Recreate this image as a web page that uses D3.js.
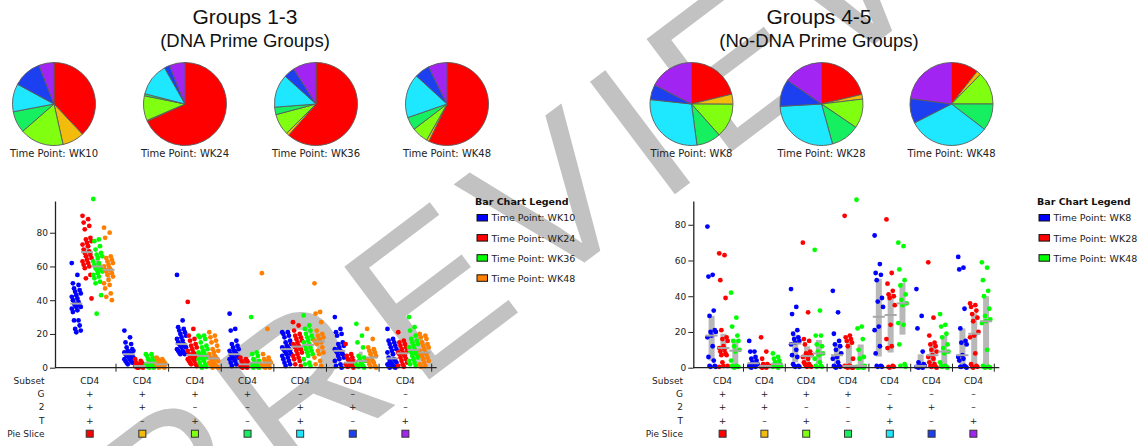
<!DOCTYPE html>
<html>
<head>
<meta charset="utf-8">
<script src="https://cdn.jsdelivr.net/npm/d3@7"></script>
<style>
  html, body { margin: 0; padding: 0; background: #fff; }
  svg { display: block; }
</style>
</head>
<body>
<svg id="chart" width="1145" height="446"></svg>
<script>
// ---------- data ----------
const subsets = ["CD4", "CD4", "CD4", "CD4", "CD4", "CD4", "CD4"];
const rowG = ["+", "+", "+", "+", "–", "–", "–"];
const row2 = ["+", "+", "–", "–", "+", "+", "–"];
const rowT = ["+", "–", "+", "–", "+", "–", "+"];
const sliceColors = ["#ff0000", "#f2bc0c", "#80ff10", "#16f060", "#1ee8ff", "#1c40f0", "#a224f2"];
const yTicks = [0, 20, 40, 60, 80];

const dnaTimePoints = ["WK10", "WK24", "WK36", "WK48"];
const dnaColors = ["#0000ff", "#ff0000", "#00ff00", "#ff8000"];
const noDnaTimePoints = ["WK8", "WK28", "WK48"];
const noDnaColors = ["#0000ff", "#ff0000", "#00ff00"];

// pie slice shares (%), one array per time point
const dnaPieWK10 = [38.0, 8.5, 17.1, 8.4, 10.9, 11.2, 5.9];
const dnaPieWK24 = [68.2, 0.3, 9.7, 0.8, 12.8, 2.1, 6.1];
const dnaPieWK36 = [61.4, 1.1, 8.3, 2.9, 12.9, 4.3, 9.0];
const dnaPieWK48 = [57.2, 1.0, 6.4, 5.1, 17.1, 5.9, 7.3];
const noDnaPieWK8 = [21.2, 3.9, 13.3, 9.5, 28.8, 5.9, 17.4];
const noDnaPieWK28 = [21.3, 1.8, 11.4, 11.2, 28.4, 10.6, 15.3];
const noDnaPieWK48 = [10.6, 1.7, 12.7, 10.4, 32.1, 9.6, 22.9];

// per-animal responses (% of cytokine+ cells), one list per subset
const dnaWK10 = [
  [62, 55, 50, 49, 47, 46, 45, 44, 43, 42, 41, 40, 39, 38, 37, 37, 36, 36, 35, 34, 33, 28, 28, 25, 23, 22, 21],
  [22, 18, 15, 14, 12, 11, 10, 10, 9, 9, 8, 8, 8, 7, 7, 7, 6, 6, 5, 5, 4, 4, 3, 3, 2],
  [55, 28, 24, 23, 22, 21, 20, 19, 18, 17, 16, 15, 14, 14, 13, 13, 12, 12, 11, 10, 10, 9, 9, 8, 8],
  [32, 23, 22, 16, 14, 13, 12, 11, 10, 10, 9, 8, 8, 7, 7, 6, 6, 5, 5, 4, 3, 2, 1],
  [21, 21, 20, 19, 18, 16, 15, 14, 13, 12, 12, 11, 11, 10, 10, 9, 8, 8, 7, 6, 5, 4, 3, 2, 1],
  [30, 23, 21, 20, 19, 15, 14, 13, 12, 11, 10, 10, 9, 9, 8, 7, 6, 5, 4, 2, 1, 0],
  [23, 17, 16, 15, 14, 13, 12, 11, 10, 9, 8, 6, 5, 4, 4, 3, 3, 2, 2, 1, 1, 0.5, 0, 0]
];
const dnaWK24 = [
  [90, 88, 86, 84, 82, 77, 76, 75, 74, 73, 72, 70, 69, 68, 67, 66, 65, 64, 63, 62, 61, 60, 59, 55, 53, 41],
  [5, 4, 3, 3, 2, 2, 2, 1, 1, 1, 1, 0.5, 0.5, 0, 0, 0],
  [39, 23, 19, 17, 16, 14, 13, 12, 11, 10, 9, 8, 8, 7, 7, 7, 6, 6, 5, 5, 4, 4, 3, 2, 2, 1],
  [6, 5, 4, 4, 3, 3, 2, 2, 1, 1, 1, 0.5, 0, 0],
  [27, 25, 22, 20, 19, 18, 17, 16, 15, 14, 13, 13, 12, 12, 11, 10, 9, 8, 7, 6, 5, 4, 2, 1],
  [14, 8, 7, 6, 5, 4, 4, 3, 3, 2, 2, 1, 1, 0.5, 0],
  [21, 16, 15, 14, 13, 12, 11, 10, 9, 9, 8, 8, 7, 6, 5, 4, 3, 2, 1, 0.5]
];
const dnaWK36 = [
  [100, 76, 75, 72, 70, 68, 67, 66, 65, 63, 62, 61, 60, 59, 58, 58, 57, 56, 55, 54, 53, 51, 50, 43, 32],
  [8, 8, 7, 6, 5, 4, 4, 3, 3, 2, 2, 1, 1, 0.5, 0, 0],
  [19, 19, 18, 17, 15, 13, 12, 11, 10, 9, 9, 8, 7, 7, 7, 6, 6, 5, 5, 4, 3, 2, 1, 0.5, 0],
  [30, 9, 8, 7, 5, 4, 3, 3, 2, 2, 1, 1, 0.5, 0, 0],
  [31, 25, 23, 22, 20, 19, 18, 17, 16, 15, 14, 13, 12, 11, 10, 9, 8, 7, 5, 3, 2, 1],
  [26, 19, 15, 12, 7, 6, 5, 4, 3, 2, 2, 1, 1, 0.5, 0],
  [30, 24, 22, 19, 17, 16, 15, 14, 13, 12, 11, 10, 9, 9, 8, 7, 6, 5, 4, 3, 2, 1]
];
const dnaWK48 = [
  [83, 80, 77, 66, 65, 64, 63, 62, 61, 60, 59, 58, 58, 57, 56, 55, 54, 52, 50, 49, 47, 44, 42, 40],
  [6, 5, 5, 4, 4, 3, 3, 2, 2, 2, 1, 1, 0.5, 0, 0],
  [21, 19, 18, 16, 15, 13, 11, 10, 9, 8, 7, 6, 6, 5, 5, 4, 4, 3, 3, 2, 2, 1, 1, 0.5, 0, 0],
  [56, 23, 8, 6, 5, 4, 4, 3, 3, 2, 2, 1, 1, 0.5, 0, 0],
  [50, 33, 32, 27, 22, 20, 19, 18, 17, 16, 16, 15, 15, 14, 12, 10, 9, 8, 6, 4, 2, 1],
  [23, 17, 12, 11, 10, 9, 8, 7, 6, 5, 4, 4, 3, 2, 1, 0.5, 0],
  [20, 19, 18, 17, 15, 14, 13, 12, 11, 10, 9, 8, 8, 7, 6, 5, 4, 3, 2, 1, 0.5]
];
const noDnaWK8 = [
  [79, 52, 51, 32, 29, 21, 20, 20, 18, 17, 12, 6, 4, 1, 1, 0.5, 0.5],
  [15, 9, 9, 6, 5, 4, 3, 2, 2, 1, 1, 0.5, 0.5, 0],
  [44, 34, 30, 21, 19, 17, 16, 15, 14, 13, 10, 7, 6, 2, 1, 1, 0.5, 0.5],
  [43, 31, 19, 15, 13, 12, 10, 8, 6, 5, 3, 1, 1, 0.5, 0.5, 0],
  [74, 58, 53, 52, 49, 39, 37, 34, 23, 21, 12, 8, 1, 1, 0.5, 0.5],
  [44, 29, 22, 9, 3, 2, 1, 1, 1, 0.5, 0.5, 0.5, 0, 0],
  [62, 56, 55, 33, 22, 15, 14, 13, 7, 6, 5, 4, 1, 0.5, 0.5, 0.5, 0]
];
const noDnaWK28 = [
  [64, 63, 49, 39, 21, 17, 16, 15, 12, 11, 10, 9, 8, 7, 7, 3, 1, 1, 0.5],
  [17, 9, 5, 2, 2, 1, 1, 1, 0.5, 0.5, 0, 0],
  [70, 31, 16, 15, 13, 9, 8, 7, 7, 6, 5, 3, 2, 2, 1, 1, 0.5, 0.5],
  [85, 18, 17, 16, 15, 14, 12, 5, 1, 1, 1, 0.5, 0.5, 0.5, 0, 0, 0],
  [83, 53, 47, 43, 41, 40, 39, 35, 24, 16, 12, 11, 1, 0.5, 0.5, 0],
  [59, 28, 18, 14, 13, 12, 10, 9, 7, 6, 5, 3, 2, 1, 0.5, 0.5, 0],
  [36, 35, 34, 32, 30, 28, 26, 20, 18, 17, 8, 2, 1, 0.5, 0.5, 0]
];
const noDnaWK48 = [
  [42, 28, 23, 18, 15, 15, 12, 10, 9, 4, 1, 1, 0.5, 0.5, 0.5, 0],
  [8, 6, 5, 4, 3, 2, 1, 1, 0.5, 0.5, 0],
  [66, 32, 18, 18, 13, 12, 9, 8, 7, 5, 3, 1, 1, 0.5, 0.5],
  [94, 23, 22, 16, 10, 6, 5, 1, 0.5, 0.5, 0.5, 0, 0, 0, 0],
  [70, 68, 55, 49, 46, 41, 38, 36, 35, 25, 24, 13, 2, 1, 0.5],
  [30, 24, 23, 19, 17, 13, 11, 9, 8, 3, 1, 1, 0.5, 0.5, 0],
  [59, 56, 49, 43, 40, 33, 29, 27, 26, 25, 10, 1, 0.5, 0.5, 0.5, 0, 0]
];

// ---------- drawing ----------
const svg = d3.select("#chart");
const labelFont = "'DejaVu Sans', Verdana, sans-serif";
const titleFont = "'Liberation Sans', Arial, Helvetica, sans-serif";
const ink = "#222";

// background watermark
svg.append("text")
  .attr("transform", "translate(585,262) rotate(-37)")
  .attr("text-anchor", "middle")
  .attr("font-family", titleFont)
  .attr("font-size", 205)
  .attr("letter-spacing", 16)
  .attr("fill", "#c2c2c2")
  .text("PREVIEW");

// panel titles
function drawTitle(cx, main, sub) {
  svg.append("text").attr("x", cx).attr("y", 24).attr("text-anchor", "middle")
    .attr("font-family", titleFont).attr("font-size", 21).attr("fill", "#111").text(main);
  svg.append("text").attr("x", cx).attr("y", 47).attr("text-anchor", "middle")
    .attr("font-family", titleFont).attr("font-size", 18.5).attr("fill", "#111").text(sub);
}
drawTitle(245, "Groups 1-3", "(DNA Prime Groups)");
drawTitle(819, "Groups 4-5", "(No-DNA Prime Groups)");

// pies
const pieLayout = d3.pie().sort(null).value(d => d);
const pieArc = d3.arc().innerRadius(0).outerRadius(41.5);
function drawPies(slices, labels, xScale) {
  slices.forEach((vals, k) => {
    const cx = xScale(k);
    const g = svg.append("g").attr("transform", `translate(${cx},104)`);
    g.selectAll("path").data(pieLayout(vals)).join("path")
      .attr("d", pieArc)
      .attr("fill", (d, i) => sliceColors[i])
      .attr("stroke", "#5a5a5a")
      .attr("stroke-width", 0.9)
      .attr("stroke-linejoin", "round");
    svg.append("text").attr("x", cx).attr("y", 157).attr("text-anchor", "middle")
      .attr("font-family", labelFont).attr("font-size", 10).attr("fill", ink)
      .text("Time Point: " + labels[k]);
  });
}
drawPies([dnaPieWK10, dnaPieWK24, dnaPieWK36, dnaPieWK48], dnaTimePoints,
  d3.scaleLinear().domain([0, 3]).range([54, 447]));
drawPies([noDnaPieWK8, noDnaPieWK28, noDnaPieWK48], noDnaTimePoints,
  d3.scaleLinear().domain([0, 2]).range([691.5, 951.5]));

// dot-plot panels
function drawPanel(p) {
  const y = d3.scaleLinear().domain([0, p.yMax]).range([367.7, 201]);
  const groups = d3.range(subsets.length);
  const gx = d3.scaleBand().domain(groups).range(p.groupRange);
  const sx = d3.scaleBand().domain(d3.range(p.series.length)).range(p.innerRange);
  const g = svg.append("g");

  // y axis
  const yAxis = g.append("g").attr("transform", `translate(${p.axisX},0)`)
    .call(d3.axisLeft(y).tickValues(yTicks).tickSize(5).tickSizeOuter(0).tickPadding(2));
  yAxis.select(".domain").attr("stroke", ink).attr("stroke-width", 1.3);
  yAxis.selectAll(".tick line").attr("stroke", ink);
  yAxis.selectAll(".tick text").attr("font-family", labelFont).attr("font-size", 9).attr("fill", ink);

  // IQR bars (behind dots)
  p.series.forEach((ser, s) => {
    ser.forEach((vals, gi) => {
      const sorted = vals.slice().sort(d3.ascending);
      const q1 = d3.quantile(sorted, 0.25), q3 = d3.quantile(sorted, 0.75);
      const cx = gx(gi) + sx(s) + sx.bandwidth() / 2;
      g.append("rect")
        .attr("x", cx - p.barW / 2).attr("width", p.barW)
        .attr("y", y(q3)).attr("height", Math.max(0.5, y(q1) - y(q3)))
        .attr("fill", "#b8b8b8");
    });
  });

  // dots
  p.series.forEach((ser, s) => {
    ser.forEach((vals, gi) => {
      const cx = gx(gi) + sx(s) + sx.bandwidth() / 2;
      g.append("g").selectAll("circle").data(vals).join("circle")
        .attr("cx", (d, i) => cx + ((((i * 5) % 9) / 4) - 1) * p.jitter)
        .attr("cy", d => y(d))
        .attr("r", 2.4)
        .attr("fill", p.colors[s]);
    });
  });

  // median ticks (over dots)
  p.series.forEach((ser, s) => {
    ser.forEach((vals, gi) => {
      const m = d3.median(vals);
      const cx = gx(gi) + sx(s) + sx.bandwidth() / 2;
      g.append("line")
        .attr("x1", cx - p.medW / 2).attr("x2", cx + p.medW / 2)
        .attr("y1", y(m)).attr("y2", y(m))
        .attr("stroke", "#a8a8a8").attr("stroke-width", 2);
    });
  });

  // x axis with crossing ticks at group boundaries
  const y0 = y(0);
  const end = p.groupRange[1];
  g.append("line").attr("x1", p.axisX).attr("x2", end + 5).attr("y1", y0).attr("y2", y0)
    .attr("stroke", ink).attr("stroke-width", 1.3);
  g.selectAll(".bound").data(groups).join("line")
    .attr("x1", d => gx(d) + gx.bandwidth()).attr("x2", d => gx(d) + gx.bandwidth())
    .attr("y1", y0 - 4).attr("y2", y0 + 4)
    .attr("stroke", ink).attr("stroke-width", 1);

  // category table
  const rows = [
    { label: "Subset", vals: subsets, cy: 380.5 },
    { label: "G", vals: rowG, cy: 393.8 },
    { label: "2", vals: row2, cy: 407.1 },
    { label: "T", vals: rowT, cy: 420.4 }
  ];
  rows.forEach(r => {
    g.append("text").attr("x", p.labelRight).attr("y", r.cy + 3.3).attr("text-anchor", "end")
      .attr("font-family", labelFont).attr("font-size", 9).attr("fill", ink).text(r.label);
    g.selectAll(null).data(r.vals).join("text")
      .attr("x", (d, i) => gx(i) + gx.bandwidth() / 2)
      .attr("y", r.cy + 3.3)
      .attr("text-anchor", "middle")
      .attr("font-family", labelFont).attr("font-size", 9).attr("fill", ink)
      .text(d => d);
  });
  g.append("text").attr("x", p.labelRight).attr("y", 433.7 + 3.3).attr("text-anchor", "end")
    .attr("font-family", labelFont).attr("font-size", 9).attr("fill", ink).text("Pie Slice");
  g.selectAll(".swatch").data(sliceColors).join("rect")
    .attr("x", (d, i) => gx(i) + gx.bandwidth() / 2 - 3.5)
    .attr("y", 430.2).attr("width", 7).attr("height", 7)
    .attr("fill", d => d).attr("stroke", "#333").attr("stroke-width", 1);

  // legend
  const lg = svg.append("g").attr("transform", `translate(${p.legendX},0)`);
  lg.append("text").attr("x", 0).attr("y", 205)
    .attr("font-family", labelFont).attr("font-size", 9.5).attr("font-weight", "bold").attr("fill", "#111")
    .text("Bar Chart Legend");
  p.labels.forEach((lab, i) => {
    const cy = 218 + i * 20.1;
    lg.append("rect").attr("x", 2).attr("y", cy - 3.5).attr("width", 10.5).attr("height", 6.5)
      .attr("fill", p.colors[i]).attr("stroke", "#111").attr("stroke-width", 1);
    lg.append("text").attr("x", 16.5).attr("y", cy + 3.4)
      .attr("font-family", labelFont).attr("font-size", 9.5).attr("fill", ink)
      .text("Time Point: " + lab);
  });
}

drawPanel({
  series: [dnaWK10, dnaWK24, dnaWK36, dnaWK48],
  colors: dnaColors,
  labels: dnaTimePoints,
  yMax: 98.8,
  axisX: 55,
  groupRange: [63.4, 431.7],
  innerRange: [7.5, 50.5],
  barW: 3.5, medW: 12, jitter: 4.5,
  labelRight: 44.5,
  legendX: 475
});
drawPanel({
  series: [noDnaWK8, noDnaWK28, noDnaWK48],
  colors: noDnaColors,
  labels: noDnaTimePoints,
  yMax: 93.3,
  axisX: 693.3,
  groupRange: [701.7, 994.3],
  innerRange: [4, 39.5],
  barW: 6, medW: 12, jitter: 4.2,
  labelRight: 683,
  legendX: 1037
});
</script>
</body>
</html>
